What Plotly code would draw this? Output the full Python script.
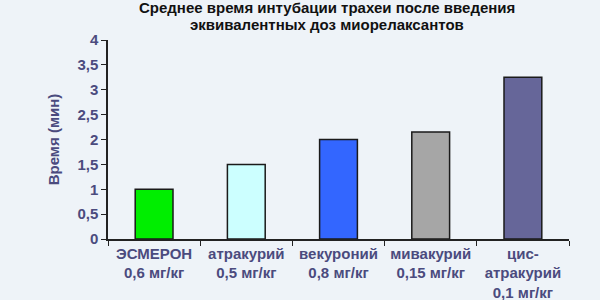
import plotly.graph_objects as go

categories = ["ЭСМЕРОН<br>0,6 мг/кг", "атракурий<br>0,5 мг/кг", "векуроний<br>0,8 мг/кг",
              "мивакурий<br>0,15 мг/кг", "цис-<br>атракурий<br>0,1 мг/кг"]
values = [1.0, 1.5, 2.0, 2.15, 3.25]
colors = ["#00EE00", "#CCFFFF", "#3366FF", "#A6A6A6", "#666699"]
tick_vals = [0, 0.5, 1, 1.5, 2, 2.5, 3, 3.5, 4]
tick_text = ["0", "0,5", "1", "1,5", "2", "2,5", "3", "3,5", "4"]
title_lines = ["Среднее время интубации трахеи после введения",
               "эквивалентных доз миорелаксантов"]

label_color = "#4B4B7E"
bg = "#EEF3F8"

fig = go.Figure(go.Bar(
    x=categories, y=values, width=0.41,
    marker=dict(color=colors, line=dict(color="#1a1a1a", width=1.5)),
))

fig.update_layout(
    width=600, height=300,
    paper_bgcolor=bg, plot_bgcolor=bg,
    margin=dict(l=108, r=31, t=40, b=61),
    showlegend=False,
    font=dict(family="Liberation Sans, Arial, sans-serif"),
)
for i, line in enumerate(title_lines):
    fig.add_annotation(
        text="<b>" + line + "</b>", xref="paper", yref="paper",
        x=0.476, y=1.0 + (32 - 16 * i) / 199, xanchor="center", yanchor="middle",
        showarrow=False, font=dict(size=15, color="#111111"),
    )
fig.update_yaxes(
    range=[0, 4], tickvals=tick_vals, ticktext=["<b>" + t + "</b>" for t in tick_text],
    ticks="outside", ticklen=5, tickcolor="#222222",
    showline=True, linecolor="#222222", linewidth=1.5,
    showgrid=False, zeroline=False, automargin=False,
    tickfont=dict(size=15, color=label_color),
    title=dict(text="<b>Время (мин)</b>", font=dict(size=15, color=label_color), standoff=14),
)
fig.update_xaxes(
    ticks="outside", ticklen=5, tickcolor="#222222", tickson="boundaries",
    showline=True, linecolor="#222222", linewidth=1.5,
    showgrid=False, automargin=False,
    tickvals=categories, ticktext=["<b>" + c + "</b>" for c in categories],
    tickfont=dict(size=15, color=label_color),
)

fig.write_html("out.html")
